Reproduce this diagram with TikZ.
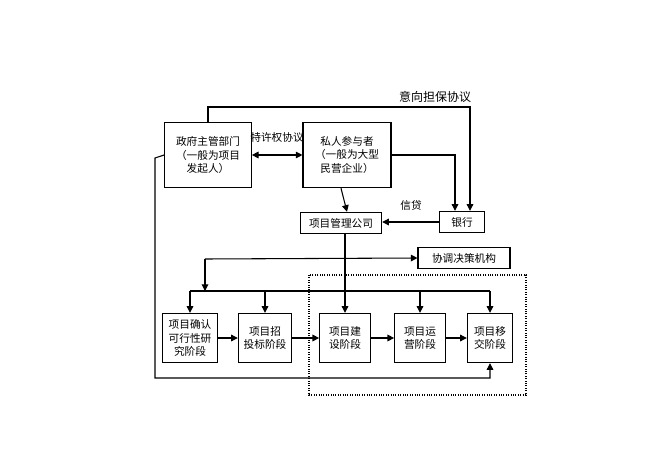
\documentclass[tikz,border=0pt]{standalone}
\usepackage{fontspec}
\newfontfamily\cjk{Noto Sans CJK SC}
\usetikzlibrary{arrows.meta,calc}
\begin{document}
\begin{tikzpicture}
  [
    x=0.75pt, y=-0.75pt,
    font=\cjk\fontsize{8}{10}\selectfont,
    block/.style =
      {draw, thick, rectangle, align=center, inner sep=1pt},
    link/.style = {thick, -{Triangle[length=5pt,width=5pt]}}
  ]
  \useasboundingbox (0,0) rectangle (661,471);
  \node [block, minimum width=65pt, minimum height=49pt] at (208,155) (gov) {政府主管部门\\（一般为项目\\发起人）};
  \node [block, minimum width=66pt, minimum height=49pt] at (347,155) (pri) {私人参与者\\（一般为大型\\民营企业）};
  \node [block, minimum width=61pt, minimum height=16pt] at (341,223) (pmc) {项目管理公司};
  \node [block, minimum width=34pt, minimum height=16pt] at (462,222) (bank) {银行};
  \node [block, minimum width=69pt, minimum height=16pt] at (464,258) (coord) {协调决策机构};
  \node [block, minimum width=41pt, minimum height=37pt] at (190,338) (s1) {项目确认\\可行性研\\究阶段};
  \node [block, minimum width=40pt, minimum height=37pt] at (265,338) (s2) {项目招\\投标阶段};
  \node [block, minimum width=38pt, minimum height=37pt] at (345,338) (s3) {项目建\\设阶段};
  \node [block, minimum width=38pt, minimum height=37pt] at (420,338) (s4) {项目运\\营阶段};
  \node [block, minimum width=34pt, minimum height=37pt] at (490,338) (s5) {项目移\\交阶段};
  \draw [densely dotted, thick] (309,275) rectangle (526,395);

  \coordinate (bus) at (205,291);
  \draw[link] (gov.north) -- (208,107) -| ($(bank.north)+(8,0)$);
  \node at (435,97) (lg) {\fontsize{9}{11}\selectfont 意向担保协议};
  \draw[thick, {Triangle[length=5pt,width=5pt]}-{Triangle[length=5pt,width=5pt]}] (gov.east) -- (pri.west);
  \node at (277,137) (lt) {特许权\\[2pt]协议};
  \node [align=center] at (277,136) {};
  \draw[link] (pri.east) -| ($(bank.north)-(7,0)$);
  \draw[link] (pri.south -| pmc) -- (pmc.north -| pri.south);
  \draw[link] (bank.west) -- (pmc.east |- bank.west);
  \node at (411,205) (lc) {信贷};
  \draw[link] (pmc.south -| s3.north) -- (s3.north);
  \draw[link] (205,259) -- (coord.west);
  \draw[link] (205,259) -- (bus);
  \draw[thick] (s1.north |- bus) -- (s5.north |- bus);
  \foreach \s in {s1,s2,s4,s5}
    \draw[link] (\s.north |- bus) -- (\s.north);
  \draw[link] (gov.west) -- (155,158) |- (170,378) -| (s5.south);
  \foreach \a/\b in {s1/s2,s2/s3,s3/s4,s4/s5}
    \draw[link] (\a.east) -- (\b.west);
\end{tikzpicture}
\end{document}
